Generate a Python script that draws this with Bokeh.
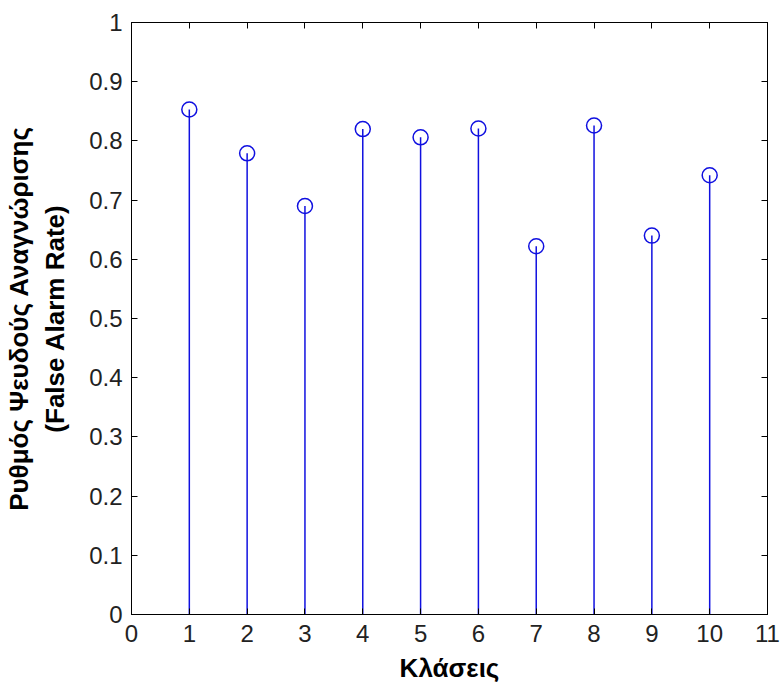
from bokeh.plotting import figure
from bokeh.models import LinearAxis, FixedTicker, ColumnDataSource, CustomLabelingPolicy
from bokeh.embed import file_html
from bokeh.resources import INLINE

classes = [1, 2, 3, 4, 5, 6, 7, 8, 9, 10]
false_alarm_rate = [0.853, 0.779, 0.690, 0.820, 0.806, 0.821, 0.622, 0.826, 0.640, 0.742]
zeros = [0.0] * len(classes)
x_ticks = list(range(0, 12))
y_ticks = [0, 0.1, 0.2, 0.3, 0.4, 0.5, 0.6, 0.7, 0.8, 0.9, 1]
y_tick_labels = {0: "0", 0.1: "0.1", 0.2: "0.2", 0.3: "0.3", 0.4: "0.4", 0.5: "0.5",
                 0.6: "0.6", 0.7: "0.7", 0.8: "0.8", 0.9: "0.9", 1: "1"}

src = ColumnDataSource(dict(x=classes, y=false_alarm_rate, y0=zeros))

p = figure(width=781, height=691, x_range=(0, 11), y_range=(0, 1),
           output_backend="svg", toolbar_location=None,
           min_border_left=131, min_border_right=14, min_border_top=22, min_border_bottom=77)
p.background_fill_color = "white"
p.border_fill_color = "white"
p.outline_line_color = "black"
p.outline_line_width = 1
p.xgrid.visible = False
p.ygrid.visible = False

STEM = "#1010e0"
p.segment(x0="x", y0="y0", x1="x", y1="y", source=src, line_color=STEM, line_width=1.5)
p.scatter(x="x", y="y", source=src, marker="circle", size=15, fill_alpha=0,
          line_color=STEM, line_width=1.5)

for ax in (p.xaxis[0], p.yaxis[0]):
    ax.major_tick_in = 6
    ax.major_tick_out = 0
    ax.minor_tick_in = 0
    ax.minor_tick_out = 0
    ax.axis_line_color = "black"
    ax.major_tick_line_color = "black"
    ax.major_label_text_font = "Liberation Sans"
    ax.major_label_text_font_size = "24px"
    ax.major_label_text_color = "#222222"
    ax.axis_label_text_font = "Liberation Sans"
    ax.axis_label_text_font_style = "bold"
    ax.axis_label_text_font_size = "26px"
    ax.axis_label_text_color = "black"

p.xaxis[0].ticker = FixedTicker(ticks=x_ticks)
p.yaxis[0].ticker = FixedTicker(ticks=y_ticks)
p.yaxis[0].major_label_overrides = y_tick_labels
p.xaxis[0].axis_label = "Κλάσεις"
p.yaxis[0].axis_label = "Ρυθμός Ψευδούς Αναγνώρισης\n(False Alarm Rate)"
p.xaxis[0].major_label_standoff = 10
p.yaxis[0].major_label_standoff = 9
p.xaxis[0].axis_label_standoff = 8
p.yaxis[0].axis_label_standoff = 16

hide_all = "const all = [...indices]; for (const i of all) indices.unset(i)"
top = LinearAxis(ticker=FixedTicker(ticks=x_ticks))
right = LinearAxis(ticker=FixedTicker(ticks=y_ticks))
for ax in (top, right):
    ax.major_tick_in = 6
    ax.major_tick_out = 0
    ax.minor_tick_in = 0
    ax.minor_tick_out = 0
    ax.major_label_policy = CustomLabelingPolicy(code=hide_all)
    ax.major_label_text_font_size = "1px"
    ax.major_label_standoff = 0
    ax.axis_line_color = "black"
    ax.major_tick_line_color = "black"
p.add_layout(top, "above")
p.add_layout(right, "right")

open("out.html", "w").write(file_html(p, INLINE))
